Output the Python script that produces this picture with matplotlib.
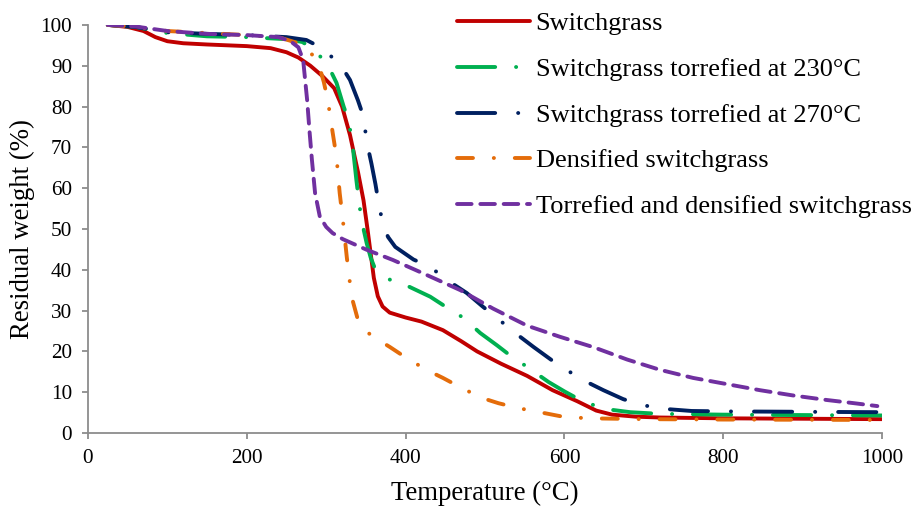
import matplotlib
matplotlib.use("Agg")
import matplotlib.pyplot as plt

plt.rcParams['font.family'] = ['Liberation Serif', 'DejaVu Serif']
plt.rcParams['lines.scale_dashes'] = False

# Data (temperature °C, residual weight %)
sg_T = [25, 50, 70, 85, 100, 120, 150, 200, 230, 250, 265, 280, 295, 310, 320, 330, 340, 347, 352, 356, 360, 365, 371, 380, 400, 420, 447, 470, 490, 520, 553, 585, 616, 640, 660, 690, 720, 800, 900, 1000]
sg_W = [100, 99.5, 98.5, 97, 96, 95.5, 95.2, 94.8, 94.3, 93.3, 92, 90, 87.5, 84.5, 80, 73, 64, 57, 50, 44, 38, 33.5, 31, 29.5, 28.3, 27.3, 25.2, 22.5, 20, 17, 14, 10.5, 7.8, 5.5, 4.5, 4, 3.8, 3.6, 3.5, 3.4]

t230_T = [25, 60, 100, 150, 200, 250, 270, 285, 298, 305, 313, 322, 328, 333, 338, 342, 347, 351, 356, 361, 375, 390, 405, 431, 450, 473, 494, 515, 531, 553, 580, 600, 616, 636, 655, 683, 720, 800, 900, 1000]
t230_W = [100, 99.5, 98, 97.2, 97, 96.5, 95.8, 94, 91, 89, 85.8, 80, 76.7, 71, 62, 55.5, 50, 46.5, 43, 40.5, 38, 36.8, 35.8, 33.4, 31, 28.2, 24.5, 21.5, 19.1, 16.2, 12.5, 10.2, 8.5, 6.9, 5.8, 5.1, 4.7, 4.5, 4.4, 4.3]

t270_T = [25, 60, 100, 150, 200, 250, 275, 292, 305, 313.5, 322, 330, 340, 347, 351, 357, 362, 366, 372, 378, 387, 410, 431, 452, 477, 497, 515, 538, 561, 590, 623, 649, 674, 695, 720, 760, 800, 900, 1000]
t270_W = [100, 99.5, 98.2, 97.8, 97.5, 97, 96.3, 94.6, 92.5, 91, 89, 86.5, 81.5, 77.5, 71.4, 66, 61, 56.4, 50.5, 48, 45.6, 42.5, 40.7, 37.5, 34.3, 31, 28.2, 24.5, 21.1, 17, 13, 10.5, 8.3, 7, 6, 5.4, 5.3, 5.2, 5.1]

dens_T = [25, 60, 100, 150, 200, 240, 265, 275, 285, 292, 297, 302, 308, 313, 317, 321, 326, 332, 340, 350, 359, 380, 401, 427, 447, 471, 496, 517, 542, 569, 598, 630, 700, 800, 1000]
dens_W = [100, 99.5, 98.5, 98, 97.5, 97, 95.5, 94.6, 92, 89.4, 86, 81.6, 73.8, 67.6, 58.8, 52.2, 43, 33.4, 27.7, 25, 23.6, 21.1, 18.4, 15.4, 13.5, 11, 8.6, 7.3, 6.1, 5.1, 4, 3.6, 3.4, 3.3, 3.2]

tdens_T = [25, 60, 100, 150, 200, 240, 255, 265, 271, 276, 279, 282, 286, 292, 300, 308, 321, 351, 384, 420, 469, 510, 553, 594, 637, 679, 720, 762, 804, 846, 888, 930, 965, 994]
tdens_W = [100, 99.6, 98.5, 97.8, 97.5, 97, 96, 94.5, 91.4, 81.6, 74, 67, 58.8, 53, 50.5, 49, 47.5, 44.9, 42.4, 39.3, 35, 30.5, 26.3, 23.6, 21, 18, 15.5, 13.5, 12, 10.5, 9.2, 8.1, 7.3, 6.6]

labels = ["Switchgrass", "Switchgrass torrefied at 230°C", "Switchgrass torrefied at 270°C",
          "Densified switchgrass", "Torrefied and densified switchgrass"]
colors = ["#C00000", "#00B050", "#002060", "#E46C0A", "#7030A0"]

fig = plt.figure(figsize=(9.16, 5.08), dpi=100)
ax = fig.add_axes([0.096, 0.1476, 0.867, 0.8034])

lw = 2.8
ax.plot(sg_T, sg_W, color=colors[0], lw=lw, solid_capstyle='round', label=labels[0])
ax.plot(t230_T, t230_W, color=colors[1], lw=lw, dash_capstyle='round',
        linestyle=(0, (27.5, 15, 0.1, 15)), label=labels[1])
ax.plot(t270_T, t270_W, color=colors[2], lw=lw, dash_capstyle='round',
        linestyle=(0, (27.5, 16.5, 0.1, 16.5)), label=labels[2])
ax.plot(dens_T, dens_W, color=colors[3], lw=lw, dash_capstyle='round',
        linestyle=(0, (11.5, 15, 0.1, 15)), label=labels[3])
ax.plot(tdens_T, tdens_W, color=colors[4], lw=lw, dash_capstyle='round',
        linestyle=(0, (10.5, 6.3)), label=labels[4])

ax.set_xlim(0, 1000)
ax.set_ylim(0, 100)
ax.set_xticks([0, 200, 400, 600, 800, 1000])
ax.set_yticks(range(0, 101, 10))
for s in ['top', 'right']:
    ax.spines[s].set_visible(False)
for s in ['left', 'bottom']:
    ax.spines[s].set_color('#8c8c8c')
    ax.spines[s].set_linewidth(1.3)
ax.tick_params(axis='both', colors='#8c8c8c', direction='out', length=4.5, width=1.3,
               labelsize=15.3, labelcolor='black', pad=7)
ax.set_xlabel("Temperature (°C)", fontsize=19.3, labelpad=9.5)
ax.set_ylabel("Residual weight (%)", fontsize=19.3, labelpad=4)

leg = ax.legend(loc='upper left', bbox_to_anchor=(457/916, 1 - 12/508), bbox_transform=fig.transFigure,
                frameon=False, fontsize=19, handlelength=2.75, handletextpad=0.23,
                labelspacing=0.84, borderaxespad=0, borderpad=0)

fig.savefig("out.png", dpi=100)
